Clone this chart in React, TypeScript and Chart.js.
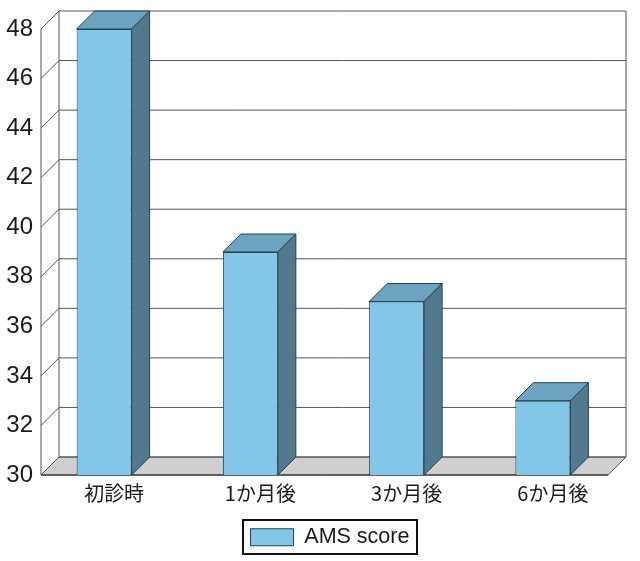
import { useEffect, useRef } from "react"
import { Chart, registerables } from "chart.js"
Chart.register(...registerables)

const CATEGORIES = ["初診時", "1か月後", "3か月後", "6か月後"]
const AMS_SCORE = [48, 39, 37, 33]
const SERIES_LABEL = "AMS score"

const DEPTH = 18
const BAR_SHIFT = 10
const LEGEND_CENTER = 330
const LEGEND_WIDTH = 174
const LEGEND_TOP = 520
const LEGEND_HEIGHT = 34
const FRONT = "#82c7e8"
const TOP = "#6ca4bf"
const SIDE = "#54798d"
const EDGE = "#1f4257"
const FLOOR = "#cfcfcf"
const LINE = "#555555"
const FONT = "'Liberation Sans', Arial, sans-serif"
const CJK = "'Noto Sans CJK JP', 'Liberation Sans', sans-serif"

function poly(ctx: CanvasRenderingContext2D, pts: number[][], fill: string | null, stroke: string) {
  ctx.beginPath()
  pts.forEach((p, i) => (i ? ctx.lineTo(p[0], p[1]) : ctx.moveTo(p[0], p[1])))
  ctx.closePath()
  if (fill) {
    ctx.fillStyle = fill
    ctx.fill()
  }
  ctx.strokeStyle = stroke
  ctx.stroke()
}

function seg(ctx: CanvasRenderingContext2D, x1: number, y1: number, x2: number, y2: number) {
  ctx.beginPath()
  ctx.moveTo(x1, y1)
  ctx.lineTo(x2, y2)
  ctx.stroke()
}

// back wall, floor and grid sit behind the bars, the axis frame is offset by the depth
const wallPlugin = {
  id: "wall",
  afterLayout(chart: any) {
    const leg = chart.legend
    const shift = LEGEND_CENTER - (leg.left + leg.right) / 2
    leg.left += shift
    leg.right += shift
    leg.top += 4
    leg.bottom += 4
  },
  beforeDatasetsDraw(chart: any) {
    const { ctx, chartArea: a, scales } = chart
    const left = a.left
    const right = a.right - DEPTH
    const bottom = a.bottom
    ctx.save()
    ctx.lineWidth = 1
    poly(ctx, [[left, bottom], [right, bottom], [right + DEPTH, bottom - DEPTH], [left + DEPTH, bottom - DEPTH]], FLOOR, LINE)
    ctx.strokeStyle = LINE
    scales.y.ticks.forEach((t: any) => {
      const y = scales.y.getPixelForValue(t.value)
      seg(ctx, left, y, left + DEPTH, y - DEPTH)
      seg(ctx, left + DEPTH, y - DEPTH, right + DEPTH, y - DEPTH)
    })
    seg(ctx, left, a.top, left, bottom)
    seg(ctx, left + DEPTH, a.top - DEPTH, left + DEPTH, bottom - DEPTH)
    seg(ctx, right + DEPTH, a.top - DEPTH, right + DEPTH, bottom - DEPTH)
    ctx.strokeStyle = "#222222"
    seg(ctx, left, bottom, right, bottom)
    ctx.restore()
    // bars stand in front of the category centre
    ctx.save()
    ctx.translate(-BAR_SHIFT, 0)
  },
  afterDatasetsDraw(chart: any) {
    const { ctx, scales } = chart
    const base = scales.y.getPixelForValue(scales.y.min)
    ctx.lineWidth = 1
    chart.getDatasetMeta(0).data.forEach((bar: any) => {
      const l = bar.x - bar.width / 2
      const r = bar.x + bar.width / 2
      poly(ctx, [[l, bar.y], [l + DEPTH, bar.y - DEPTH], [r + DEPTH, bar.y - DEPTH], [r, bar.y]], TOP, EDGE)
      poly(ctx, [[r, bar.y], [r + DEPTH, bar.y - DEPTH], [r + DEPTH, base - DEPTH], [r, base]], SIDE, EDGE)
    })
    ctx.restore()
    ctx.save()
    ctx.strokeStyle = "#111111"
    ctx.lineWidth = 2
    ctx.strokeRect(LEGEND_CENTER - LEGEND_WIDTH / 2, LEGEND_TOP, LEGEND_WIDTH, LEGEND_HEIGHT)
    ctx.restore()
  },
}

export default function App() {
  const ref = useRef<HTMLCanvasElement>(null)
  useEffect(() => {
    document.body.style.margin = "0"
    if (!ref.current) return
    const chart = new Chart(ref.current, {
      type: "bar",
      plugins: [wallPlugin],
      data: {
        labels: CATEGORIES,
        datasets: [{
          label: SERIES_LABEL,
          data: AMS_SCORE,
          backgroundColor: FRONT,
          borderColor: EDGE,
          borderWidth: 1,
          barPercentage: 0.376,
          categoryPercentage: 1,
        }],
      },
      options: {
        responsive: false,
        animation: false,
        devicePixelRatio: 1,
        layout: { padding: { top: 29, right: 14, left: 0, bottom: 7 } },
        plugins: {
          tooltip: { enabled: false },
          legend: {
            position: "bottom",
            labels: {
              boxWidth: 43,
              boxHeight: 17,
              padding: 4.5,
              color: "#1a1a1a",
              font: { family: FONT, size: 21.5 },
            },
          },
        },
        scales: {
          x: {
            grid: { display: false, drawTicks: false },
            border: { display: false },
            ticks: { color: "#1a1a1a", font: { family: CJK, size: 20 }, maxRotation: 0, padding: 6 },
            afterFit: (s: any) => { s.height = 43 },
          },
          y: {
            min: 30,
            max: 48,
            grid: { display: false, drawTicks: false },
            border: { display: false },
            ticks: { stepSize: 2, color: "#1a1a1a", font: { family: FONT, size: 24 }, padding: 8 },
            afterFit: (s: any) => { s.width = 41 },
          },
        },
      } as any,
    })
    return () => chart.destroy()
  }, [])
  return <canvas ref={ref} width={640} height={561} style={{ display: "block" }} />
}
